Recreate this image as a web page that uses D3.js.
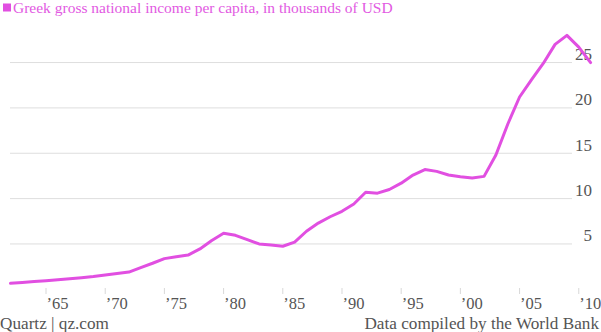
<!DOCTYPE html>
<html>
<head>
<meta charset="utf-8">
<script src="https://cdn.jsdelivr.net/npm/d3@7"></script>
<style>
  body { margin: 0; background: #fff; }
  text { font-family: "Liberation Serif", serif; }
</style>
</head>
<body>
<script>
const width = 601
const height = 332

const years = []
for (let y = 1962; y <= 2011; y++) years.push(y)

// GNI per capita, thousands of USD
const gni = [
  0.66, 0.75, 0.85, 0.95, 1.05, 1.15, 1.27, 1.41, 1.58, 1.74,
  1.9, 2.4, 2.87, 3.38, 3.6, 3.77, 4.45, 5.38, 6.17, 5.95,
  5.47, 5.0, 4.88, 4.75, 5.2, 6.4, 7.3, 8.0, 8.6, 9.4,
  10.7, 10.6, 11.0, 11.7, 12.6, 13.2, 13.0, 12.6, 12.4, 12.27,
  12.45, 14.8, 18.2, 21.2, 23.1, 24.9, 27.0, 28.0, 26.7, 25.0
]

const yTicks = [5, 10, 15, 20, 25]
const xTicks = [1965, 1970, 1975, 1980, 1985, 1990, 1995, 2000, 2005, 2010]

const title = "Greek gross national income per capita, in thousands of USD"
const sourceLeft = "Quartz | qz.com"
const sourceRight = "Data compiled by the World Bank"

const pink = "#e14fe1"
const grey = "#555"

const x = d3.scaleLinear().domain([1962, 2011]).range([10.5, 590.6])
const y = d3.scaleLinear().domain([0, 30]).range([289.3, 17.2])

const svg = d3.select("body").append("svg")
    .attr("width", width)
    .attr("height", height)

// title with the little legend square
svg.append("rect")
    .attr("x", 3).attr("y", 3.5)
    .attr("width", 8).attr("height", 8)
    .attr("fill", pink)

svg.append("text")
    .attr("x", 13).attr("y", 13)
    .attr("font-size", "15.5px")
    .attr("fill", "#e25ae2")
    .text(title)

// horizontal grid + labels on the right
const grid = svg.append("g")
grid.selectAll("line")
  .data(yTicks)
  .enter().append("line")
    .attr("x1", 10).attr("x2", 572)
    .attr("y1", d => y(d)).attr("y2", d => y(d))
    .attr("stroke", "#dedede")
    .attr("stroke-width", 1)

grid.selectAll("text")
  .data(yTicks)
  .enter().append("text")
    .attr("x", 592)
    .attr("y", d => y(d) - 2.5)
    .attr("text-anchor", "end")
    .attr("font-size", "17px")
    .attr("fill", grey)
    .text(d => d)

// x ticks
const xAxis = svg.append("g")
xAxis.selectAll("line")
  .data(xTicks)
  .enter().append("line")
    .attr("x1", d => x(d)).attr("x2", d => x(d))
    .attr("y1", 288).attr("y2", 294)
    .attr("stroke", "#d8d8d8")

xAxis.selectAll("text")
  .data(xTicks)
  .enter().append("text")
    .attr("x", d => x(d) + 0.5)
    .attr("y", 309)
    .attr("font-size", "16.5px")
    .attr("fill", grey)
    .text(d => "\u2019" + String(d).slice(2))

// the line
const line = d3.line()
    .x((d, i) => x(years[i]))
    .y(d => y(d))

svg.append("path")
    .datum(gni)
    .attr("d", line)
    .attr("fill", "none")
    .attr("stroke", pink)
    .attr("stroke-width", 3)
    .attr("stroke-linejoin", "round")
    .attr("stroke-linecap", "round")

// footer
svg.append("text")
    .attr("x", 0).attr("y", 328.5)
    .attr("font-size", "17.2px")
    .attr("fill", grey)
    .text(sourceLeft)

svg.append("text")
    .attr("x", 599).attr("y", 328.5)
    .attr("text-anchor", "end")
    .attr("font-size", "17.2px")
    .attr("fill", grey)
    .text(sourceRight)
</script>
</body>
</html>
